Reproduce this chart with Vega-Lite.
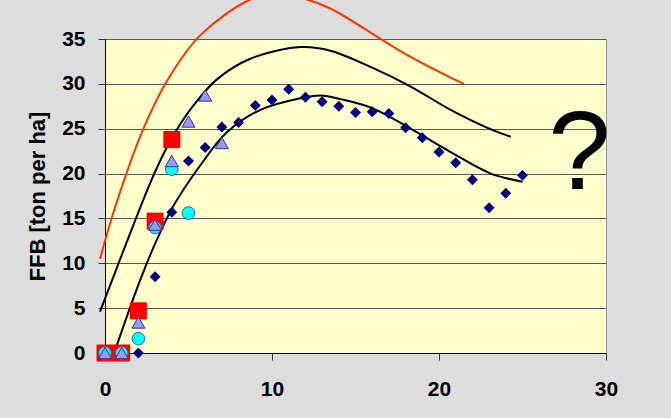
{
  "$schema": "https://vega.github.io/schema/vega-lite/v6.json",
  "width": 501,
  "height": 314,
  "autosize": {"type": "none"},
  "padding": {"left": 105, "top": 39, "right": 65, "bottom": 65},
  "background": "#dddddd",
  "config": {
    "view": {"fill": "#ffffcc", "stroke": "#999999", "strokeWidth": 1},
    "font": "Liberation Sans"
  },
  "datasets": {
    "curves": [
      {"series": "red", "x": -0.3, "y": 10.5},
      {"series": "red", "x": 0.7, "y": 16.8},
      {"series": "red", "x": 2.3, "y": 25.0},
      {"series": "red", "x": 3.7, "y": 30.3},
      {"series": "red", "x": 5.7, "y": 35.4},
      {"series": "red", "x": 8.7, "y": 39.4},
      {"series": "red", "x": 10.3, "y": 40.0},
      {"series": "red", "x": 11.9, "y": 39.5},
      {"series": "red", "x": 13.5, "y": 38.4},
      {"series": "red", "x": 16.6, "y": 34.9},
      {"series": "red", "x": 18.3, "y": 33.0},
      {"series": "red", "x": 20.7, "y": 30.7},
      {"series": "red", "x": 21.5, "y": 30.0},
      {"series": "upper", "x": -0.3, "y": 4.6},
      {"series": "upper", "x": 1.0, "y": 10.9},
      {"series": "upper", "x": 2.3, "y": 17.1},
      {"series": "upper", "x": 3.0, "y": 20.2},
      {"series": "upper", "x": 3.7, "y": 22.9},
      {"series": "upper", "x": 4.5, "y": 25.5},
      {"series": "upper", "x": 5.3, "y": 27.6},
      {"series": "upper", "x": 6.7, "y": 30.5},
      {"series": "upper", "x": 8.7, "y": 32.8},
      {"series": "upper", "x": 11.7, "y": 34.1},
      {"series": "upper", "x": 13.5, "y": 33.7},
      {"series": "upper", "x": 16.0, "y": 31.8},
      {"series": "upper", "x": 18.3, "y": 29.7},
      {"series": "upper", "x": 20.7, "y": 27.1},
      {"series": "upper", "x": 22.9, "y": 25.1},
      {"series": "upper", "x": 24.3, "y": 24.1},
      {"series": "lower", "x": 0.6, "y": 0.3},
      {"series": "lower", "x": 1.3, "y": 4.0},
      {"series": "lower", "x": 2.1, "y": 8.1},
      {"series": "lower", "x": 3.1, "y": 12.6},
      {"series": "lower", "x": 4.1, "y": 16.4},
      {"series": "lower", "x": 5.7, "y": 20.9},
      {"series": "lower", "x": 7.3, "y": 24.6},
      {"series": "lower", "x": 9.3, "y": 27.1},
      {"series": "lower", "x": 11.7, "y": 28.4},
      {"series": "lower", "x": 12.9, "y": 28.7},
      {"series": "lower", "x": 14.1, "y": 28.3},
      {"series": "lower", "x": 16.0, "y": 27.3},
      {"series": "lower", "x": 18.4, "y": 24.9},
      {"series": "lower", "x": 20.7, "y": 22.4},
      {"series": "lower", "x": 23.1, "y": 20.0},
      {"series": "lower", "x": 25.0, "y": 19.1}
    ],
    "squares": [
      {"x": 0, "y": 0}, {"x": 1, "y": 0}, {"x": 2, "y": 4.7}, {"x": 3, "y": 14.7}, {"x": 4, "y": 23.8}
    ],
    "circles": [
      {"x": 0, "y": 0}, {"x": 1, "y": 0}, {"x": 2, "y": 1.6}, {"x": 3, "y": 14.0}, {"x": 4, "y": 20.5}, {"x": 5, "y": 15.6}
    ],
    "triangles": [
      {"x": 0, "y": 0}, {"x": 1, "y": 0}, {"x": 2, "y": 3.4}, {"x": 3, "y": 14.3}, {"x": 4, "y": 21.4}, {"x": 5, "y": 25.8}, {"x": 6, "y": 28.7}, {"x": 7, "y": 23.4}
    ],
    "diamonds": [
      {"x": 2, "y": 0}, {"x": 3, "y": 8.5}, {"x": 4, "y": 15.7}, {"x": 5, "y": 21.4}, {"x": 6, "y": 22.9},
      {"x": 7, "y": 25.2}, {"x": 8, "y": 25.7}, {"x": 9, "y": 27.6}, {"x": 10, "y": 28.2}, {"x": 11, "y": 29.4},
      {"x": 12, "y": 28.5}, {"x": 13, "y": 28.0}, {"x": 14, "y": 27.5}, {"x": 15, "y": 26.8}, {"x": 16, "y": 26.9},
      {"x": 17, "y": 26.7}, {"x": 18, "y": 25.1}, {"x": 19, "y": 24.0}, {"x": 20, "y": 22.4}, {"x": 21, "y": 21.2},
      {"x": 22, "y": 19.3}, {"x": 23, "y": 16.2}, {"x": 24, "y": 17.8}, {"x": 25, "y": 19.8}
    ],
    "question": [{"x": 28.4, "y": 18.3, "label": "?"}]
  },
  "encoding": {
    "x": {
      "field": "x", "type": "quantitative",
      "scale": {"domain": [0, 30], "nice": false, "zero": false},
      "axis": {
        "title": null, "values": [0, 10, 20, 30], "grid": false, "labelFlush": false,
        "domainColor": "#000000", "tickColor": "#333333", "tickSize": 7,
        "labelFontSize": 21, "labelFontWeight": "bold", "labelColor": "#000000",
        "labelPadding": 18, "labelFont": "Liberation Sans"
      }
    },
    "y": {
      "field": "y", "type": "quantitative",
      "scale": {"domain": [0, 35], "nice": false, "zero": false},
      "axis": {
        "title": "FFB [ton per ha]", "values": [0, 5, 10, 15, 20, 25, 30, 35],
        "grid": true, "gridColor": "#555555", "gridWidth": 1, "gridOpacity": 1, "labelFlush": false,
        "domainColor": "#000000", "tickColor": "#333333", "tickSize": 7,
        "labelFontSize": 21, "labelFontWeight": "bold", "labelColor": "#000000",
        "labelPadding": 13, "labelFont": "Liberation Sans",
        "titleFontSize": 22, "titleFontWeight": "bold", "titleColor": "#000000",
        "titleFont": "Liberation Sans", "titlePadding": 12
      }
    }
  },
  "layer": [
    {
      "data": {"name": "curves"},
      "mark": {"type": "line", "interpolate": "catmull-rom", "strokeWidth": 2},
      "encoding": {
        "detail": {"field": "series"},
        "color": {
          "field": "series", "type": "nominal",
          "scale": {"domain": ["red", "upper", "lower"], "range": ["#ff3300", "#000000", "#000000"]},
          "legend": null
        }
      }
    },
    {
      "data": {"name": "squares"},
      "mark": {"type": "point", "shape": "square", "filled": true, "size": 289, "color": "#ff0000", "opacity": 1}
    },
    {
      "data": {"name": "circles"},
      "mark": {"type": "point", "shape": "circle", "filled": true, "size": 160, "fill": "#00ffff", "stroke": "#336699", "strokeWidth": 1, "opacity": 1}
    },
    {
      "data": {"name": "triangles"},
      "mark": {"type": "point", "shape": "triangle-up", "filled": true, "size": 170, "fill": "#9999ff", "stroke": "#333399", "strokeWidth": 1, "opacity": 1}
    },
    {
      "data": {"name": "diamonds"},
      "mark": {"type": "point", "shape": "diamond", "filled": true, "size": 120, "color": "#000080", "opacity": 1}
    },
    {
      "data": {"name": "question"},
      "mark": {"type": "text", "fontSize": 112, "font": "Liberation Sans", "align": "center", "baseline": "alphabetic", "color": "#000000"},
      "encoding": {"text": {"field": "label"}}
    }
  ]
}
